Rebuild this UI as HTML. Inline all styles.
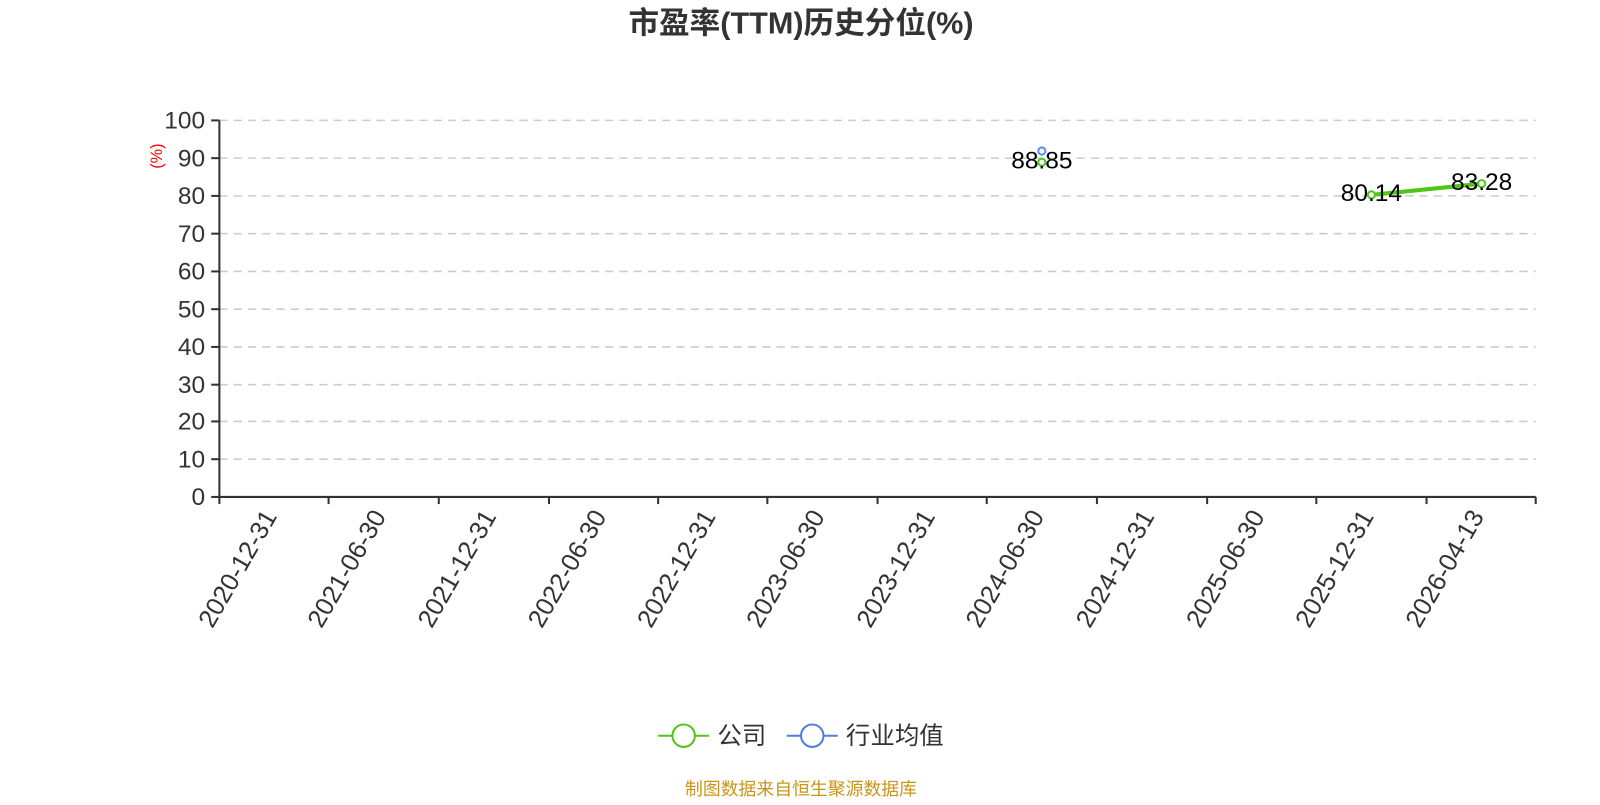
<!DOCTYPE html>
<html><head><meta charset="utf-8"><style>
html,body{margin:0;padding:0;background:#fff;}
svg text{font-family:"Liberation Sans","Noto Sans CJK SC",sans-serif;}
</style></head><body>
<svg width="1600" height="800" viewBox="0 0 1568 784" xmlns="http://www.w3.org/2000/svg">
<text x="785" y="33" text-anchor="middle" font-size="30" font-weight="bold" fill="#333">市盈率(TTM)历史分位(%)</text>
<g stroke="#ccc" stroke-width="1.5" stroke-dasharray="8,6">
<line x1="215" x2="1505" y1="118" y2="118"/><line x1="215" x2="1505" y1="155" y2="155"/>
<line x1="215" x2="1505" y1="192" y2="192"/><line x1="215" x2="1505" y1="229" y2="229"/>
<line x1="215" x2="1505" y1="266" y2="266"/><line x1="215" x2="1505" y1="303" y2="303"/>
<line x1="215" x2="1505" y1="340" y2="340"/><line x1="215" x2="1505" y1="377" y2="377"/>
<line x1="215" x2="1505" y1="413" y2="413"/><line x1="215" x2="1505" y1="450" y2="450"/>
</g>
<g stroke="#333" stroke-width="2">
<line x1="215" x2="215" y1="118" y2="487"/><line x1="215" x2="1505" y1="487" y2="487"/>
<line x1="207" x2="215" y1="118" y2="118"/><line x1="207" x2="215" y1="155" y2="155"/><line x1="207" x2="215" y1="192" y2="192"/><line x1="207" x2="215" y1="229" y2="229"/><line x1="207" x2="215" y1="266" y2="266"/><line x1="207" x2="215" y1="303" y2="303"/><line x1="207" x2="215" y1="340" y2="340"/><line x1="207" x2="215" y1="377" y2="377"/><line x1="207" x2="215" y1="413" y2="413"/><line x1="207" x2="215" y1="450" y2="450"/><line x1="207" x2="215" y1="487" y2="487"/>
<line x1="215" x2="215" y1="487" y2="494"/><line x1="322" x2="322" y1="487" y2="494"/><line x1="430" x2="430" y1="487" y2="494"/><line x1="538" x2="538" y1="487" y2="494"/><line x1="645" x2="645" y1="487" y2="494"/><line x1="752" x2="752" y1="487" y2="494"/><line x1="860" x2="860" y1="487" y2="494"/><line x1="967" x2="967" y1="487" y2="494"/><line x1="1075" x2="1075" y1="487" y2="494"/><line x1="1183" x2="1183" y1="487" y2="494"/><line x1="1290" x2="1290" y1="487" y2="494"/><line x1="1398" x2="1398" y1="487" y2="494"/><line x1="1505" x2="1505" y1="487" y2="494"/>
</g>
<g font-size="24" fill="#333" text-anchor="end">
<text x="201" y="126">100</text><text x="201" y="163">90</text><text x="201" y="200">80</text><text x="201" y="237">70</text><text x="201" y="274">60</text><text x="201" y="311">50</text><text x="201" y="348">40</text><text x="201" y="385">30</text><text x="201" y="421">20</text><text x="201" y="458">10</text><text x="201" y="495">0</text>
</g>
<text transform="translate(159,153) rotate(-90)" font-size="16" fill="red" text-anchor="middle">(%)</text>
<g font-size="25" fill="#333" text-anchor="end">
<text transform="translate(272,506) rotate(-60)">2020-12-31</text>
<text transform="translate(379,506) rotate(-60)">2021-06-30</text>
<text transform="translate(487,506) rotate(-60)">2021-12-31</text>
<text transform="translate(595,506) rotate(-60)">2022-06-30</text>
<text transform="translate(702,506) rotate(-60)">2022-12-31</text>
<text transform="translate(809,506) rotate(-60)">2023-06-30</text>
<text transform="translate(917,506) rotate(-60)">2023-12-31</text>
<text transform="translate(1024,506) rotate(-60)">2024-06-30</text>
<text transform="translate(1132,506) rotate(-60)">2024-12-31</text>
<text transform="translate(1240,506) rotate(-60)">2025-06-30</text>
<text transform="translate(1347,506) rotate(-60)">2025-12-31</text>
<text transform="translate(1455,506) rotate(-60)">2026-04-13</text>
</g>
<line x1="1344" y1="191" x2="1452" y2="180" stroke="#52c41a" stroke-width="4"/>
<circle cx="1021" cy="148" r="3.5" fill="#fff" stroke="#5b8ff9" stroke-width="2"/>
<circle cx="1021" cy="159" r="3.5" fill="#fff" stroke="#52c41a" stroke-width="2"/>
<circle cx="1344" cy="191" r="3.5" fill="#fff" stroke="#52c41a" stroke-width="2"/>
<circle cx="1452" cy="180" r="3.5" fill="#fff" stroke="#52c41a" stroke-width="2"/>
<g font-size="24" fill="#000" text-anchor="middle">
<text x="1021" y="165">88.85</text><text x="1344" y="197">80.14</text><text x="1452" y="186">83.28</text>
</g>
<line x1="645" x2="695" y1="721" y2="721" stroke="#52c41a" stroke-width="2"/>
<circle cx="670" cy="721" r="11" fill="#fff" stroke="#52c41a" stroke-width="2"/>
<text x="703" y="729" font-size="24" fill="#333">公司</text>
<line x1="771" x2="821" y1="721" y2="721" stroke="#4e7fe0" stroke-width="2"/>
<circle cx="796" cy="721" r="11" fill="#fff" stroke="#4e7fe0" stroke-width="2"/>
<text x="829" y="729" font-size="24" fill="#333">行业均值</text>
<text x="785" y="779" font-size="17.5" fill="#c8951a" text-anchor="middle">制图数据来自恒生聚源数据库</text>
</svg>
</body></html>
